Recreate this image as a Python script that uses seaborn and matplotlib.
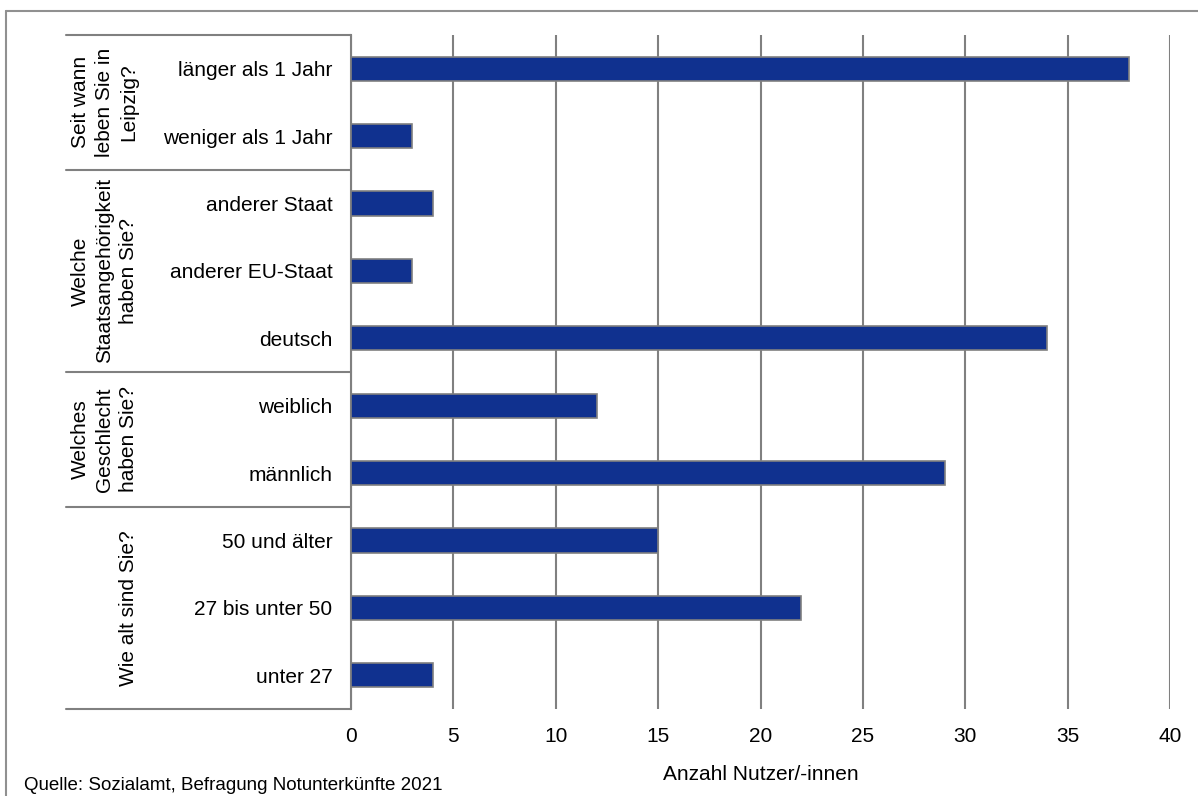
import matplotlib
matplotlib.use('Agg')
import matplotlib.pyplot as plt
import seaborn as sns
import pandas as pd
from matplotlib.lines import Line2D

# ---- data ----
categories = ["länger als 1 Jahr", "weniger als 1 Jahr", "anderer Staat",
              "anderer EU-Staat", "deutsch", "weiblich", "männlich",
              "50 und älter", "27 bis unter 50", "unter 27"]
values = [38, 3, 4, 3, 34, 12, 29, 15, 22, 4]
groups = ["Seit wann\nleben Sie in\nLeipzig?",
          "Welche\nStaatsangehörigkeit\nhaben Sie?",
          "Welches\nGeschlecht\nhaben Sie?",
          "Wie alt sind Sie?"]
group_sizes = [2, 3, 2, 3]
x_ticks = [0, 5, 10, 15, 20, 25, 30, 35, 40]
x_label = "Anzahl Nutzer/-innen"
source = "Quelle: Sozialamt, Befragung Notunterkünfte 2021"

# ---- style ----
sns.set_theme(style='white')
plt.rcParams['font.family'] = ['Liberation Sans', 'DejaVu Sans']

FS = 15
W, H = 1198, 796
fig = plt.figure(figsize=(W / 100, H / 100), dpi=100)
L, R, T, B = 351, 1170, 35, 709
ax = fig.add_axes([L / W, 1 - B / H, (R - L) / W, (B - T) / H])

df = pd.DataFrame({'cat': categories, 'val': values})
sns.barplot(data=df, y='cat', x='val', orient='h', color='#10318F',
            saturation=1, width=0.36, edgecolor='#808080', linewidth=1.2,
            ax=ax, zorder=3)

ax.set_xlim(0, 40)
ax.set_ylim(len(categories) - 0.5, -0.5)
ax.set_xticks(x_ticks)
ax.set_xticklabels([str(t) for t in x_ticks])
ax.xaxis.grid(True, color='#808080', lw=1.5)
ax.yaxis.grid(False)
ax.set_axisbelow(True)
for s in ['top', 'right', 'bottom']:
    ax.spines[s].set_visible(False)
ax.spines['left'].set_color('#808080')
ax.spines['left'].set_linewidth(1.5)
ax.tick_params(axis='both', length=0, labelsize=FS, colors='black')
ax.tick_params(axis='y', pad=13.5)
ax.tick_params(axis='x', pad=13)
ax.set_ylabel('')
ax.set_xlabel(x_label, fontsize=FS, labelpad=14, color='black')

# group labels and separators
tr = ax.get_yaxis_transform()
x_left = (66 - L) / (R - L)
x_text = (138 - L) / (R - L)
start = 0
bounds = [-0.5]
for g, n in zip(groups, group_sizes):
    center = start + n / 2 - 0.5
    ax.text(x_text, center, g, transform=tr, rotation=90, ha='right',
            va='center', multialignment='center', fontsize=FS,
            linespacing=1.32, color='black')
    start += n
    bounds.append(start - 0.5)
for b in bounds:
    ax.plot([x_left, 0], [b, b], transform=tr, clip_on=False,
            color='#808080', lw=1.5)

# outer frame
fig.add_artist(Line2D([6 / W, 6 / W], [0, 1 - 11 / H], transform=fig.transFigure,
                      color='#909090', lw=1.5))
fig.add_artist(Line2D([6 / W, 1], [1 - 11 / H, 1 - 11 / H], transform=fig.transFigure,
                      color='#909090', lw=1.5))

fig.text(24 / W, 1 - 790 / H, source, fontsize=13.5, va='baseline', ha='left',
         color='black')

fig.savefig('out.png', dpi=100)
